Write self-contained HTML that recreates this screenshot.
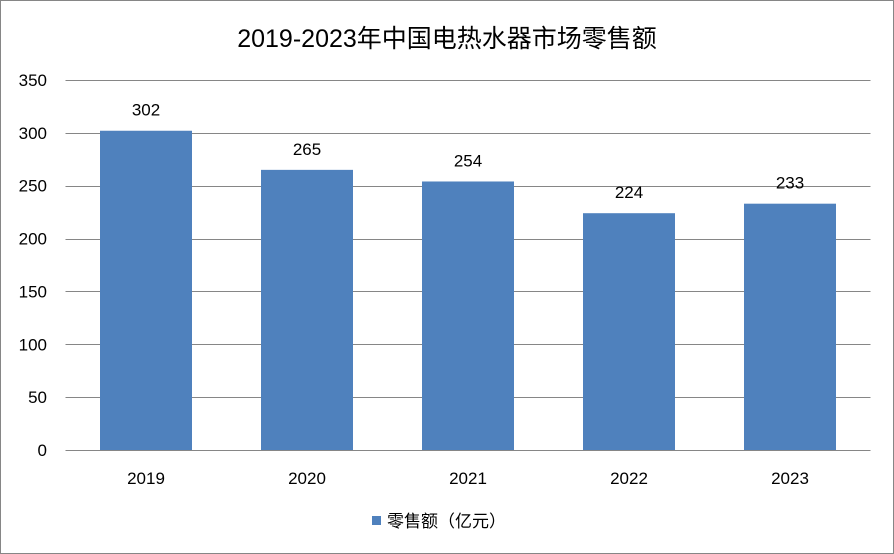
<!DOCTYPE html>
<html>
<head>
<meta charset="utf-8">
<style>
  html,body{margin:0;padding:0;background:#fff;}
  svg{display:block;font-family:"Liberation Sans","Noto Sans CJK SC",sans-serif;}
</style>
</head>
<body>
<svg id="chart" width="894" height="554" viewBox="0 0 894 554">
  <rect x="0.5" y="0.5" width="893" height="553" fill="#fff" stroke="#868686"/>
  <text x="447" y="47" text-anchor="middle" font-size="25" fill="#000">2019-2023年中国电热水器市场零售额</text>
  <g id="grid"></g>
  <g id="yticks"></g>
  <g id="bars"></g>
  <g id="labels"></g>
  <g id="xticks"></g>
  <g>
    <rect x="372" y="516" width="9" height="9" fill="#4f81bd"/>
    <text x="387" y="527" font-size="17" fill="#000">零售额（亿元）</text>
  </g>
</svg>
<script>
const categories = ["2019","2020","2021","2022","2023"];
const values = [302,265,254,224,233];
const yTicks = [0,50,100,150,200,250,300,350];

const NS = "http://www.w3.org/2000/svg";
const plotL = 65.5, plotR = 870.5, plotTop = 80, plotBot = 450, yMax = 350;
const y = v => plotBot - (v / yMax) * (plotBot - plotTop);
const band = (plotR - plotL) / categories.length;
const xc = i => plotL + band * (i + 0.5);
const barW = 92;

function mk(tag, attrs, parent){
  const e = document.createElementNS(NS, tag);
  for (const k in attrs) e.setAttribute(k, attrs[k]);
  parent.appendChild(e);
  return e;
}
const grid = document.getElementById("grid"), yt = document.getElementById("yticks"),
      bars = document.getElementById("bars"), labels = document.getElementById("labels"),
      xt = document.getElementById("xticks");

yTicks.forEach(t => {
  const yy = Math.round(y(t)) + 0.5;
  const l = mk("line", {x1: plotL, x2: plotR, y1: yy, y2: yy, stroke: t === 0 ? "#868686" : "#868686", "stroke-width": 1}, grid);
  
  
  const tx = mk("text", {x: 47, y: y(t) + 6, "text-anchor": "end", "font-size": 17, fill: "#000"}, yt);
  tx.textContent = t;
  
  
});

categories.forEach((c, i) => {
  const v = values[i];
  const r = mk("rect", {x: xc(i) - barW / 2, y: y(v), width: barW, height: y(0) - y(v), fill: "#4f81bd"}, bars);
  
  
  const lb = mk("text", {x: xc(i), y: y(v) - 15, "text-anchor": "middle", "font-size": 17, fill: "#000"}, labels);
  lb.textContent = v;
  
  
  const xl = mk("text", {x: xc(i), y: 484, "text-anchor": "middle", "font-size": 17, fill: "#000"}, xt);
  xl.textContent = c;
  
  
});
</script>
</body>
</html>
